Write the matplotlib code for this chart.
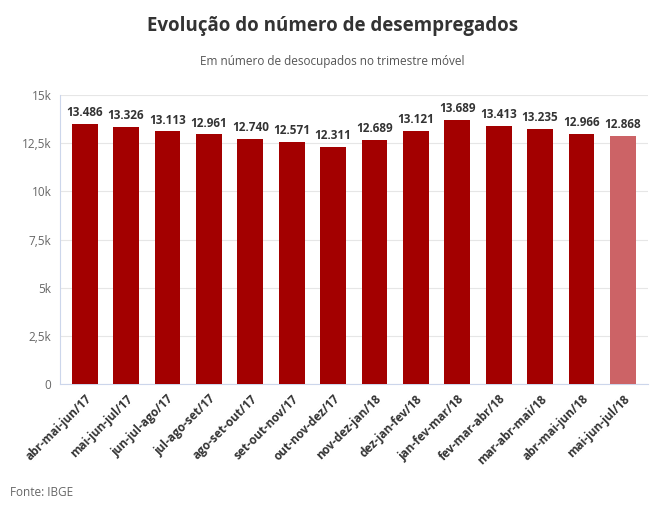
import matplotlib.pyplot as plt

periods = ["abr-mai-jun/17", "mai-jun-jul/17", "jun-jul-ago/17", "jul-ago-set/17",
           "ago-set-out/17", "set-out-nov/17", "out-nov-dez/17", "nov-dez-jan/18",
           "dez-jan-fev/18", "jan-fev-mar/18", "fev-mar-abr/18", "mar-abr-mai/18",
           "abr-mai-jun/18", "mai-jun-jul/18"]
unemployed = [13486, 13326, 13113, 12961, 12740, 12571, 12311, 12689,
              13121, 13689, 13413, 13235, 12966, 12868]
yticks = [0, 2500, 5000, 7500, 10000, 12500, 15000]
ytick_labels = ["0", "2,5k", "5k", "7,5k", "10k", "12,5k", "15k"]

plt.rcParams['font.family'] = ['Open Sans', 'DejaVu Sans']
fig = plt.figure(figsize=(6.65, 5.11), dpi=100)
ax = fig.add_axes([0.09, 0.2485, 0.884, 0.5655])

colors = ['#a30000'] * (len(periods) - 1) + ['#cc6366']
x = range(len(periods))
ax.bar(x, unemployed, width=0.62, color=colors, zorder=3)
for i, v in enumerate(unemployed):
    ax.text(i, v + 250, f"{v/1000:.3f}", ha='center', va='bottom',
            fontsize=8.5, fontweight='bold', color='#333333')

ax.set_ylim(0, 15000)
ax.set_xlim(-0.6, len(periods) - 0.4)
ax.set_yticks(yticks)
ax.set_yticklabels(ytick_labels, fontsize=8.5, color='#666666')
ax.set_xticks(list(x))
ax.set_xticklabels(periods, rotation=45, ha='right', rotation_mode='anchor',
                   fontsize=8.5, fontweight='bold', color='#333333')
ax.grid(axis='y', color='#e6e6e6', linewidth=0.8, zorder=0)
ax.tick_params(length=0, pad=6)
for s in ['top', 'right']:
    ax.spines[s].set_visible(False)
ax.spines['left'].set_color('#ccd6eb')
ax.spines['bottom'].set_color('#ccd6eb')

fig.text(0.5, 0.94, "Evolução do número de desempregados", ha='center',
         fontsize=13.5, fontweight='bold', color='#333333')
fig.text(0.5, 0.872, "Em número de desocupados no trimestre móvel", ha='center',
         fontsize=8.5, color='#555555')
fig.text(0.015, 0.03, "Fonte: IBGE", fontsize=8.5, color='#666666')

fig.savefig("out.png", dpi=100)
